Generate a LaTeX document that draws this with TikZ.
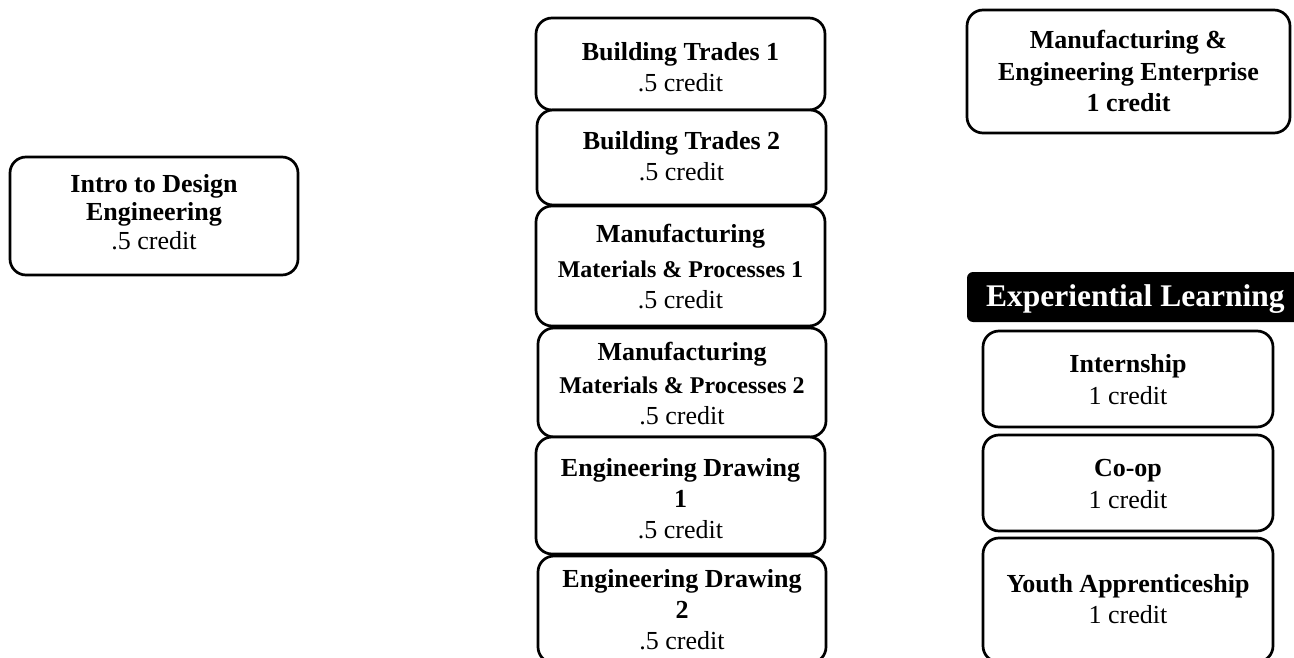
\documentclass[tikz,border=0pt]{standalone}
\usepackage{fontspec}
\setmainfont{Liberation Serif}
\begin{document}
\begin{tikzpicture}[x=1pt,y=-1pt,
  box/.style={draw=black, line width=2.7pt, rounded corners=16pt, fill=white, inner sep=0pt},
  txt/.style={anchor=base, align=center, inner sep=0pt, font=\fontsize{26}{31}\selectfont},
  head/.style={fill=black, inner sep=0pt, rounded corners=6pt}]
\useasboundingbox (0,0) rectangle (1294,658);
\clip (0,0) rectangle (1294,658);
% left
\node[box, minimum width=288pt, minimum height=118pt] (intro) at (154,216) {};
\node[txt, font=\fontsize{26}{28.5}\selectfont] (introt) at (154,249.5) {\textbf{Intro to Design}\\\textbf{Engineering}\\.5 credit};
% middle column
\node[box, minimum width=289pt, minimum height=92pt] (bt1) at (680.5,64) {};
\node[txt] (bt1t) at (680.5,92) {\textbf{Building Trades 1}\\.5 credit};
\node[box, minimum width=289pt, minimum height=95pt] (bt2) at (681.5,157.5) {};
\node[txt] (bt2t) at (681.5,181) {\textbf{Building Trades 2}\\.5 credit};
\node[box, minimum width=289pt, minimum height=120pt] (mmp1) at (680.5,266) {};
\node[txt] (mmp1t) at (680.5,308) {\textbf{Manufacturing}\\[4pt]{\fontsize{24}{29}\selectfont\textbf{Materials \& Processes 1}}\\.5 credit};
\node[box, minimum width=288pt, minimum height=109pt] (mmp2) at (682,382.5) {};
\node[txt] (mmp2t) at (682,424) {\textbf{Manufacturing}\\[1.5pt]{\fontsize{24}{29}\selectfont\textbf{Materials \& Processes 2}}\\.5 credit};
\node[box, minimum width=289pt, minimum height=117pt] (ed1) at (680.5,495.5) {};
\node[txt] (ed1t) at (680.5,538) {\textbf{Engineering Drawing}\\\textbf{1}\\.5 credit};
\node[box, minimum width=288pt, minimum height=107pt] (ed2) at (682,609.5) {};
\node[txt] (ed2t) at (682,649) {\textbf{Engineering Drawing}\\\textbf{2}\\.5 credit};
% right column
\node[box, minimum width=323pt, minimum height=123pt] (mee) at (1128.5,71.5) {};
\node[txt, font=\fontsize{26}{31.6}\selectfont] (meet) at (1128.5,112) {\textbf{Manufacturing \&}\\\textbf{Engineering Enterprise}\\\textbf{1 credit}};
\node[head, minimum width=340pt, minimum height=50pt] (exp) at (1137,297) {};
\node[anchor=base west, inner sep=0pt, text=white, font=\fontsize{31.5}{36}\selectfont\bfseries] (expt) at (986,306) {Experiential Learning};
\node[box, minimum width=290pt, minimum height=96pt] (intern) at (1128,379) {};
\node[txt, font=\fontsize{26}{31.7}\selectfont] (internt) at (1128,404.5) {\textbf{Internship}\\1 credit};
\node[box, minimum width=290pt, minimum height=96pt] (coop) at (1128,483) {};
\node[txt, font=\fontsize{26}{31.7}\selectfont] (coopt) at (1128,508) {\textbf{Co-op}\\1 credit};
\node[box, minimum width=290pt, minimum height=124pt] (youth) at (1128,600) {};
\node[txt] (youtht) at (1128,623.5) {\textbf{Youth Apprenticeship}\\1 credit};
\end{tikzpicture}
\end{document}
